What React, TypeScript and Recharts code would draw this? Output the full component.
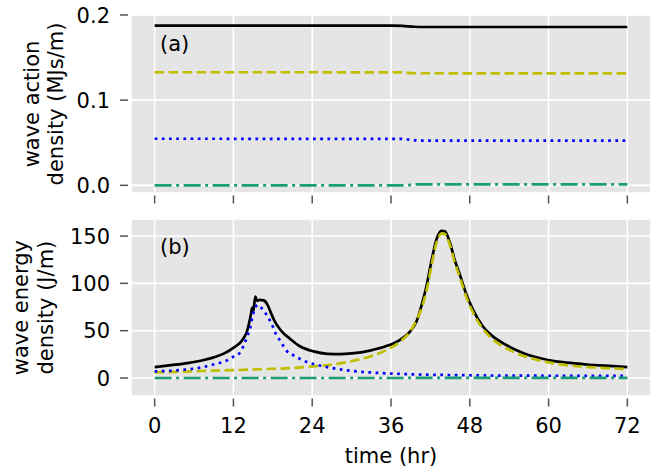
import React from 'react'
import { LineChart, Line, XAxis, YAxis, CartesianGrid } from 'recharts'

const FONT = '"DejaVu Sans", sans-serif'
const FS = 21

const hourTicks = [0, 12, 24, 36, 48, 60, 72]
const actionTicks = [0, 0.1, 0.2]
const energyTicks = [0, 50, 100, 150]

// (a) wave action density, MJs/m
const actionTotalHr = [0, 36.5, 38, 39.5, 41, 72]
const actionTotal = [0.1875, 0.1875, 0.187, 0.1862, 0.1859, 0.1859]
const actionSwellHr = [0, 37, 40, 72]
const actionSwell = [0.1328, 0.1327, 0.1316, 0.1315]
const actionSeaHr = [0, 37.5, 40.5, 72]
const actionSea = [0.0547, 0.0545, 0.0526, 0.0525]
const actionRestHr = [0, 38, 40, 72]
const actionRest = [0, 0, 0.0012, 0.0012]

// (b) wave energy density, J/m
const energyTotalHr = [
  0, 2.5, 5, 7.5, 9, 10.6, 12.1, 13.4, 14.1, 14.5, 14.7, 14.85, 14.95, 15.1,
  15.35, 15.6, 16, 16.6, 17.2, 17.7, 18.2, 19.2, 20.7, 22.2, 24.2, 26.3, 28.3,
  30, 32.8, 35.4, 37.4, 38.9, 39.9, 40.7, 41.4, 42.2, 42.9, 43.7, 44.2, 45,
  45.7, 46.5, 47.5, 48.5, 50, 51.5, 53.5, 56.1, 58.6, 61.1, 63.6, 66.2, 68.7, 72,
]
const energyTotal = [
  11.6, 13.6, 15.8, 19, 21.8, 26, 32.4, 40.4, 50, 61.5, 68.6, 74, 70, 74,
  86, 81.5, 82.6, 82, 77.3, 69, 61, 50.5, 41, 33.3, 28.1, 25.6, 25.3,
  26, 29, 34, 40.4, 49, 60, 78, 97, 124.8, 145.9, 155.4, 155, 142.4,
  124.8, 109, 87.9, 72, 54.4, 44, 35.1, 26.4, 21.1, 17.5, 15.8, 14, 13, 11.5,
]
const energySwellHr = [
  0, 3, 7, 10, 14.4, 17, 20.7, 25.3, 27.3, 29.8, 32.8, 35.4, 37.4, 38.9, 39.9,
  40.9, 41.5, 42.2, 42.9, 43.7, 44.2, 45, 45.7, 46.5, 47.5, 48.5, 50, 51,
  53.5, 56.1, 58.6, 61.1, 63.6, 66.2, 68.7, 72,
]
const energySwell = [
  5.9, 6.5, 7.4, 8, 8.8, 9.5, 10.5, 13, 14.5, 17.5, 22.8, 29.9, 38.6, 49, 61.5,
  79, 95, 120, 142, 152.5, 152, 140, 122, 106, 85, 69, 52, 44,
  31.6, 23.5, 18.6, 15.1, 13, 11.6, 10.5, 9.5,
]
const energySeaHr = [
  0, 2.5, 4.5, 6.6, 8.8, 10.9, 12.1, 12.9, 13.6, 14.1, 14.65, 14.9, 15.2, 15.7,
  16.4, 17.2, 17.9, 18.4, 19.2, 20.2, 21.2, 22.2, 23.2, 25.3, 27.3, 29.8, 32.8,
  36.9, 41.4, 47, 52, 60, 72,
]
const energySea = [
  7, 7.7, 8.8, 10.5, 14, 18.2, 22.8, 26, 35, 44, 56, 65, 72, 77.3,
  73, 65, 56, 47.5, 38.6, 28, 23.8, 20, 16.9, 13, 10.2, 7.7, 5.9,
  4.5, 3.5, 3, 2.6, 2.4, 2.2,
]
const energyRestHr = [0, 38, 40, 72]
const energyRest = [0, 0, 0.2, 0.2]

const toPoints = (hr: number[], vals: number[]) =>
  hr.map((time, i) => ({ time, value: vals[i] }))

const series = [
  { color: '#000000', dash: undefined },
  { color: '#bfbf00', dash: '9.5 4.5' },
  { color: '#0000ff', dash: '2.7 4.5' },
  { color: '#1b9e77', dash: '17 4.5 3 4.5' },
]

const actionData = [
  toPoints(actionTotalHr, actionTotal),
  toPoints(actionSwellHr, actionSwell),
  toPoints(actionSeaHr, actionSea),
  toPoints(actionRestHr, actionRest),
]
const energyData = [
  toPoints(energyTotalHr, energyTotal),
  toPoints(energySwellHr, energySwell),
  toPoints(energySeaHr, energySea),
  toPoints(energyRestHr, energyRest),
]

function YTick(props: any) {
  const { x, y, payload, digits } = props
  return (
    <g>
      <line x1={x - 11} x2={x - 3} y1={y} y2={y} stroke="#555555" strokeWidth={1.5} />
      <text
        x={x - 21}
        y={y}
        dy="0.36em"
        textAnchor="end"
        fontFamily={FONT}
        fontSize={FS}
        fill="#000"
      >
        {payload.value.toFixed(digits)}
      </text>
    </g>
  )
}

function XTick(props: any) {
  const { x, y, payload, showLabel } = props
  return (
    <g>
      <line x1={x} x2={x} y1={y + 2.5} y2={y + 10.5} stroke="#555555" strokeWidth={1.5} />
      {showLabel && (
        <text
          x={x}
          y={y + 22 + 0.73 * FS}
          textAnchor="middle"
          fontFamily={FONT}
          fontSize={FS}
          fill="#000"
        >
          {payload.value}
        </text>
      )}
    </g>
  )
}

const yLabel = (lines: string[], xs: number[], cy: number, tag: string, tagY: number) => () =>
  (
    <g fontFamily={FONT} fontSize={FS} fill="#000">
      {lines.map((s, i) => (
        <text key={s} transform={`translate(${xs[i]} ${cy}) rotate(-90)`} textAnchor="middle">
          {s}
        </text>
      ))}
      <text x={160} y={tagY}>
        {tag}
      </text>
    </g>
  )

function Lines(data: { time: number; value: number }[][]) {
  return data.map((d, i) => (
    <Line
      key={i}
      data={d}
      dataKey="value"
      type="monotoneX"
      stroke={series[i].color}
      strokeWidth={2.7}
      strokeDasharray={series[i].dash}
      dot={false}
      activeDot={false}
      isAnimationActive={false}
    />
  ))
}

export default function App() {
  return (
    <div style={{ position: 'absolute', left: 0, top: 0, width: 656, height: 472, background: '#fff' }}>
      <LineChart width={656} height={210} margin={{ top: 15, right: 5, bottom: 0, left: 0 }}>
        <CartesianGrid fill="#e5e5e5" stroke="#ffffff" strokeWidth={1.6} />
        <XAxis
          type="number"
          dataKey="time"
          domain={[-3.6, 75.6]}
          ticks={hourTicks}
          allowDataOverflow
          height={17}
          axisLine={false}
          tickLine={false}
          tickSize={0}
          tickMargin={0}
          tick={(p: any) => <XTick {...p} showLabel={false} />}
        />
        <YAxis
          type="number"
          domain={[-0.009, 0.2]}
          ticks={actionTicks}
          allowDataOverflow
          width={131}
          axisLine={false}
          tickLine={false}
          tickSize={0}
          tickMargin={0}
          tick={(p: any) => <YTick {...p} digits={1} />}
          label={yLabel(['wave action', 'density (MJs/m)'], [38.5, 62.5], 104, '(a)', 50.6)}
        />
        {Lines(actionData)}
      </LineChart>
      <div style={{ position: 'absolute', left: 0, top: 210 }}>
        <LineChart width={656} height={262} margin={{ top: 9, right: 5, bottom: 0, left: 0 }}>
          <CartesianGrid fill="#e5e5e5" stroke="#ffffff" strokeWidth={1.6} />
          <XAxis
            type="number"
            dataKey="time"
            domain={[-3.6, 75.6]}
            ticks={hourTicks}
            allowDataOverflow
            height={76}
            axisLine={false}
            tickLine={false}
            tickSize={0}
            tickMargin={0}
            tick={(p: any) => <XTick {...p} showLabel />}
            label={() => (
              <text x={391} y={252.7} textAnchor="middle" fontFamily={FONT} fontSize={FS} fill="#000">
                time (hr)
              </text>
            )}
          />
          <YAxis
            type="number"
            domain={[-19, 168]}
            ticks={energyTicks}
            allowDataOverflow
            width={131}
            axisLine={false}
            tickLine={false}
            tickSize={0}
            tickMargin={0}
            tick={(p: any) => <YTick {...p} digits={0} />}
            label={yLabel(['wave energy', 'density (J/m)'], [28.3, 52.7], 97.6, '(b)', 44)}
          />
          {Lines(energyData)}
        </LineChart>
      </div>
    </div>
  )
}
